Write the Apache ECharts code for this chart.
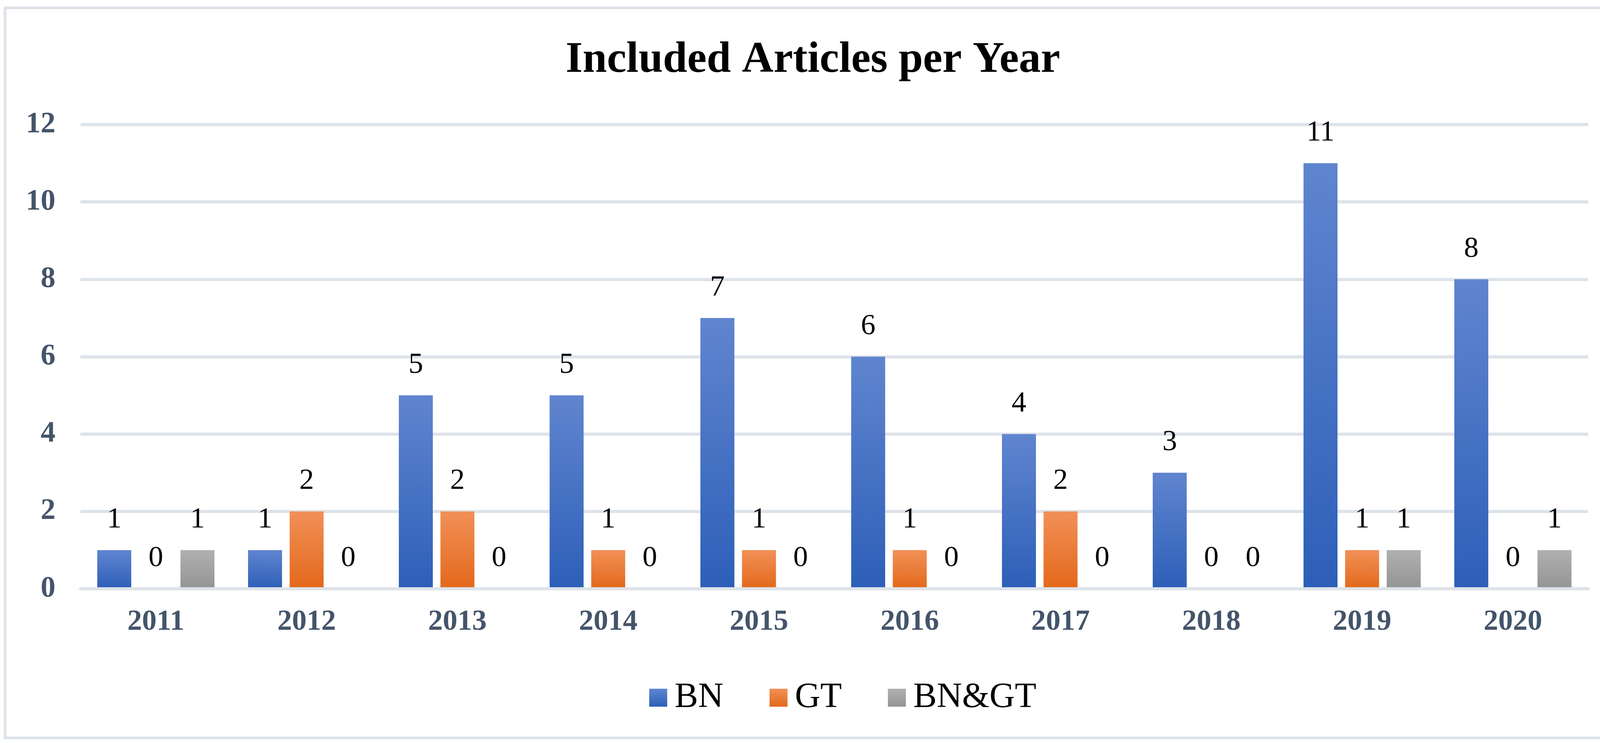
<!DOCTYPE html>
<html>
<head>
<meta charset="utf-8">
<script src="https://cdn.jsdelivr.net/npm/echarts@6/dist/echarts.min.js"></script>
<style>
html,body{margin:0;padding:0;background:#fff;}
#chart{width:4162px;height:1903px;}
</style>
</head>
<body>
<div id="chart"></div>
<script>
const categories = ['2011','2012','2013','2014','2015','2016','2017','2018','2019','2020'];
const seriesNames = ['BN','GT','BN&GT'];
const bnValues = [1,1,5,5,7,6,4,3,11,8];
const gtValues = [0,2,2,1,1,1,2,0,1,0];
const bngtValues = [1,0,0,0,0,0,0,0,1,1];
const yTicks = {min:0, max:12, interval:2};

const FONT = "'Liberation Serif', 'Times New Roman', serif";
const AXIS_COLOR = '#44546a';
const GRID_COLOR = '#dee3ea';

function grad(top, bottom){
  return new echarts.graphic.LinearGradient(0,0,0,1,[{offset:0,color:top},{offset:1,color:bottom}]);
}
const colors = [grad('#6085cf','#2d5fb8'), grad('#f19058','#e3681a'), grad('#b0b0b0','#949494')];
const dataSets = [bnValues, gtValues, bngtValues];

const chart = echarts.init(document.getElementById('chart'));
chart.setOption({
  backgroundColor:'#ffffff',
  animation:false,
  title:{
    text:'Included Articles per Year',
    left:'center', top:94,
    textStyle:{fontFamily:FONT, fontWeight:'bold', fontSize:112, color:'#000', lineHeight:112}
  },
  legend:{
    data:seriesNames,
    left:1657, top:1737,
    itemWidth:46, itemHeight:46, itemGap:118,
    icon:'rect',
    textStyle:{fontFamily:FONT, fontSize:90, color:'#000', lineHeight:90, padding:[0,0,0,14]}
  },
  grid:{left:206, right:96, top:319, bottom:395, containLabel:false},
  xAxis:{
    type:'category',
    data:categories,
    z:5,
    axisTick:{show:false},
    axisLine:{lineStyle:{color:GRID_COLOR, width:8}},
    axisLabel:{fontFamily:FONT, fontWeight:'bold', fontSize:75, color:AXIS_COLOR, margin:48, lineHeight:75}
  },
  yAxis:{
    type:'value',
    min:yTicks.min, max:yTicks.max, interval:yTicks.interval,
    axisLine:{show:false},
    axisTick:{show:false},
    splitLine:{lineStyle:{color:GRID_COLOR, width:8}},
    axisLabel:{fontFamily:FONT, fontWeight:'bold', fontSize:76, color:AXIS_COLOR, margin:64}
  },
  graphic:[{
    type:'rect', silent:true, z:-10,
    shape:{x:13, y:20, width:4142, height:1870},
    style:{fill:'none', stroke:GRID_COLOR, lineWidth:7}
  }],
  series: seriesNames.map((name,i)=>({
    name:name,
    type:'bar',
    data:dataSets[i],
    barWidth:87,
    barGap:'22.4%',
    itemStyle:{color:colors[i]},
    label:{
      show:true, position:'top', distance:40,
      fontFamily:FONT, fontSize:75, color:'#000', lineHeight:75
    }
  }))
});
</script>
</body>
</html>
